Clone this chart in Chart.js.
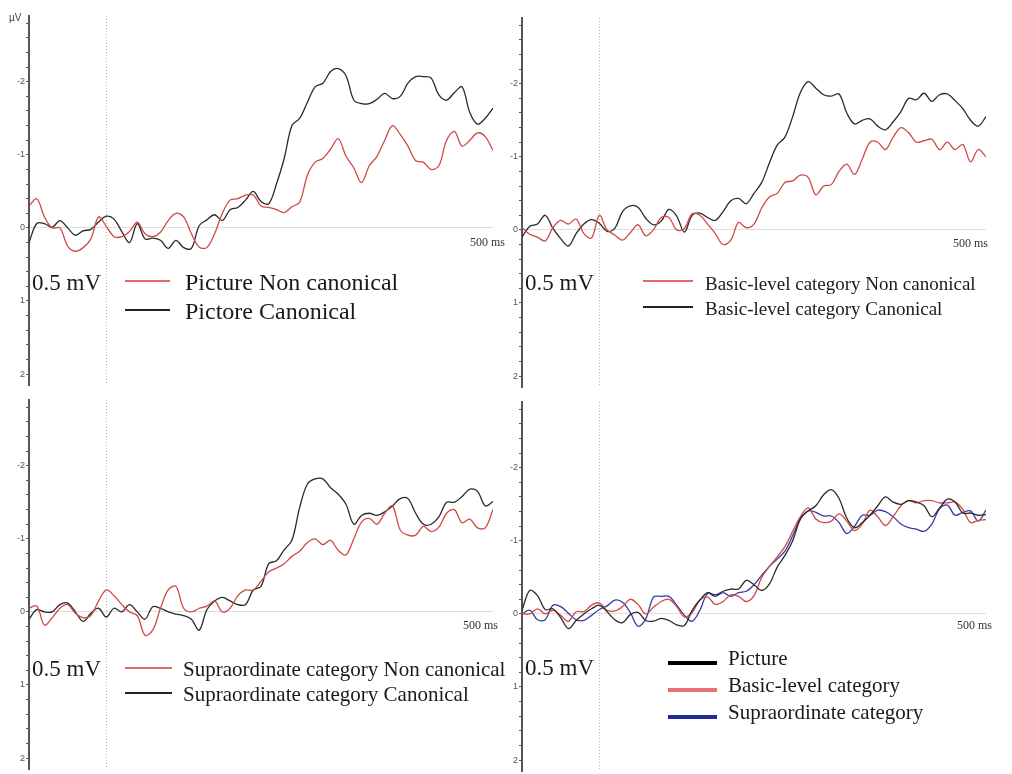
<!DOCTYPE html>
<html>
<head>
<meta charset="utf-8">
<script src="https://cdn.jsdelivr.net/npm/chart.js@4.4.1/dist/chart.umd.min.js"></script>
<style>
  html, body { margin: 0; padding: 0; background: #fff; width: 1012px; height: 774px; overflow: hidden; }
  canvas { position: absolute; }
  .t { position: absolute; font-family: "Liberation Serif", "Times New Roman", serif; color: #1a1a1a; white-space: nowrap; line-height: 1; }
  .unit { position: absolute; font-family: "Liberation Sans", Arial, sans-serif; font-size: 10px; color: #444; line-height: 1; }
  .key { position: absolute; height: 0; }
</style>
</head>
<body>
<canvas id="c1" width="501" height="385" style="left:0px;top:8px"></canvas>
<canvas id="c2" width="501" height="385" style="left:493px;top:10px"></canvas>
<canvas id="c3" width="501" height="385" style="left:0px;top:392px"></canvas>
<canvas id="c4" width="501" height="385" style="left:493px;top:394px"></canvas>

<div class="unit" style="left:9px;top:13px">µV</div>

<div class="t" style="left:32px;top:271px;font-size:23px">0.5 mV</div>
<div class="t" style="left:525px;top:271px;font-size:23px">0.5 mV</div>
<div class="t" style="left:32px;top:657px;font-size:23px">0.5 mV</div>
<div class="t" style="left:525px;top:656px;font-size:23px">0.5 mV</div>

<div class="t" style="left:470px;top:236px;font-size:12px;color:#333">500 ms</div>
<div class="t" style="left:953px;top:237px;font-size:12px;color:#333">500 ms</div>
<div class="t" style="left:463px;top:619px;font-size:12px;color:#333">500 ms</div>
<div class="t" style="left:957px;top:619px;font-size:12px;color:#333">500 ms</div>

<script>
// time axis (ms)
const times = [-100, -90, -80, -70, -60, -50, -40, -30, -20, -10,
  0, 10, 20, 30, 40, 50, 60, 70, 80, 90,
  100, 110, 120, 130, 140, 150, 160, 170, 180, 190,
  200, 210, 220, 230, 240, 250, 260, 270, 280, 290,
  300, 310, 320, 330, 340, 350, 360, 370, 380, 390,
  400, 410, 420, 430, 440, 450, 460, 470, 480, 490,
  500];

const yTicks = [-2.8, -2.6, -2.4, -2.2, -2, -1.8, -1.6, -1.4, -1.2, -1, -0.8, -0.6, -0.4, -0.2,
  0, 0.2, 0.4, 0.6, 0.8, 1, 1.2, 1.4, 1.6, 1.8, 2];
const yTickLabels = [-2, -1, 0, 1, 2];
const markerTimes = [0];

// panel 1 : picture
const p1NonCanonical = [-0.30, -0.40, -0.15, 0.00, 0.00, 0.25, 0.32, 0.27, 0.15, -0.15,
  -0.02, 0.12, 0.12, 0.05, -0.08, 0.08, 0.12, 0.06, -0.10, -0.20,
  -0.15, 0.08, 0.26, 0.27, 0.08, -0.20, -0.38, -0.40, -0.45, -0.45,
  -0.30, -0.28, -0.25, -0.21, -0.29, -0.35, -0.72, -0.90, -0.95, -1.08,
  -1.22, -0.98, -0.82, -0.62, -0.85, -0.98, -1.20, -1.40, -1.28, -1.12,
  -0.92, -0.90, -0.80, -0.85, -1.20, -1.32, -1.12, -1.20, -1.30, -1.25,
  -1.06];
const p1Canonical = [0.20, -0.06, -0.06, -0.01, -0.10, 0.00, 0.10, 0.04, 0.02, -0.08,
  -0.16, -0.12, 0.05, 0.20, -0.06, 0.15, 0.14, 0.17, 0.28, 0.17,
  0.27, 0.28, -0.03, -0.11, -0.18, -0.10, -0.25, -0.28, -0.38, -0.50,
  -0.36, -0.33, -0.60, -0.95, -1.40, -1.50, -1.72, -1.93, -1.98, -2.14,
  -2.18, -2.08, -1.75, -1.70, -1.70, -1.76, -1.84, -1.77, -1.80, -1.98,
  -2.07, -2.07, -2.05, -1.82, -1.75, -1.85, -1.93, -1.58, -1.42, -1.50,
  -1.64];

// panel 2 : basic-level category
const p2NonCanonical = [-0.03, 0.06, 0.10, 0.15, -0.03, -0.13, -0.08, -0.15, 0.05, 0.11,
  -0.20, 0.00, 0.07, 0.14, 0.04, -0.07, 0.08, 0.00, -0.17, -0.17,
  0.00, -0.02, -0.22, -0.20, -0.08, 0.05, 0.20, 0.14, -0.10, -0.03,
  -0.08, -0.30, -0.45, -0.50, -0.65, -0.67, -0.75, -0.72, -0.48, -0.60,
  -0.62, -0.80, -0.90, -0.76, -0.97, -1.20, -1.20, -1.10, -1.27, -1.40,
  -1.33, -1.20, -1.22, -1.24, -1.10, -1.20, -1.10, -1.17, -0.93, -1.10,
  -1.00];
const p2Canonical = [0.10, -0.05, -0.08, -0.20, -0.02, 0.12, 0.22, 0.05, -0.08, -0.14,
  -0.09, 0.02, -0.02, -0.25, -0.33, -0.31, -0.16, -0.07, -0.12, -0.28,
  -0.19, 0.03, -0.20, -0.23, -0.17, -0.13, -0.25, -0.40, -0.43, -0.36,
  -0.50, -0.65, -0.92, -1.16, -1.27, -1.55, -1.88, -2.03, -1.94, -1.85,
  -1.83, -1.86, -1.60, -1.45, -1.50, -1.52, -1.42, -1.37, -1.48, -1.62,
  -1.80, -1.78, -1.87, -1.76, -1.85, -1.86, -1.77, -1.66, -1.50, -1.42,
  -1.55];

// panel 3 : supraordinate category
const p3NonCanonical = [-0.05, -0.08, 0.18, 0.08, -0.05, -0.10, 0.02, 0.08, 0.05, -0.15,
  -0.30, -0.22, -0.10, 0.00, 0.05, 0.32, 0.25, -0.05, -0.30, -0.35,
  -0.05, 0.00, -0.05, -0.08, -0.15, 0.00, -0.05, -0.22, -0.30, -0.30,
  -0.42, -0.55, -0.60, -0.66, -0.76, -0.83, -0.95, -1.00, -0.92, -0.98,
  -0.84, -0.78, -1.00, -1.23, -1.28, -1.20, -1.35, -1.45, -1.12, -1.05,
  -1.05, -1.17, -1.10, -1.16, -1.35, -1.40, -1.22, -1.27, -1.15, -1.15,
  -1.40];
const p3Canonical = [0.10, -0.03, 0.00, 0.00, -0.10, -0.12, 0.00, 0.13, 0.02, -0.05,
  0.07, -0.05, 0.00, -0.10, 0.00, 0.10, -0.07, -0.05, 0.00, 0.03,
  0.05, 0.10, 0.25, -0.03, -0.15, -0.20, -0.15, -0.10, -0.10, -0.30,
  -0.35, -0.66, -0.70, -0.85, -0.98, -1.43, -1.75, -1.82, -1.82, -1.70,
  -1.61, -1.47, -1.20, -1.32, -1.35, -1.32, -1.37, -1.45, -1.55, -1.55,
  -1.35, -1.20, -1.20, -1.30, -1.50, -1.50, -1.58, -1.68, -1.65, -1.45,
  -1.51];

// panel 4 : canonical conditions compared
const p4Picture = [-0.05, -0.32, -0.25, -0.06, -0.07, 0.05, 0.20, 0.09, 0.00, -0.07,
  -0.12, -0.03, 0.08, 0.12, 0.01, -0.02, 0.09, 0.10, 0.06, 0.09,
  0.15, 0.16, -0.05, -0.19, -0.29, -0.26, -0.31, -0.34, -0.34, -0.46,
  -0.40, -0.32, -0.41, -0.64, -0.80, -1.00, -1.30, -1.41, -1.48, -1.63,
  -1.70, -1.58, -1.31, -1.18, -1.25, -1.35, -1.48, -1.60, -1.53, -1.50,
  -1.55, -1.53, -1.48, -1.33, -1.45, -1.57, -1.53, -1.38, -1.38, -1.35,
  -1.36];
const p4Basic = [0.00, 0.00, -0.07, 0.00, -0.05, 0.02, 0.10, -0.03, -0.03, -0.12,
  -0.15, -0.05, -0.04, -0.10, -0.20, -0.13, 0.00, -0.09, -0.17, -0.20,
  -0.10, 0.04, -0.02, -0.19, -0.23, -0.13, -0.17, -0.26, -0.24, -0.17,
  -0.25, -0.50, -0.65, -0.78, -0.92, -1.13, -1.33, -1.45, -1.30, -1.25,
  -1.27, -1.37, -1.27, -1.14, -1.23, -1.42, -1.33, -1.21, -1.33, -1.48,
  -1.55, -1.52, -1.55, -1.55, -1.52, -1.52, -1.53, -1.43, -1.25, -1.28,
  -1.29];
const p4Supra = [0.00, -0.05, 0.08, 0.08, -0.12, -0.10, -0.01, 0.08, 0.09, 0.02,
  -0.06, -0.11, -0.19, -0.16, -0.02, 0.17, 0.07, -0.23, -0.24, -0.24,
  -0.12, 0.02, 0.10, -0.05, -0.28, -0.24, -0.29, -0.24, -0.29, -0.31,
  -0.40, -0.53, -0.65, -0.75, -0.86, -1.07, -1.30, -1.41, -1.39, -1.34,
  -1.34, -1.25, -1.10, -1.20, -1.35, -1.35, -1.42, -1.40, -1.33, -1.23,
  -1.18, -1.16, -1.13, -1.23, -1.44, -1.49, -1.35, -1.39, -1.41, -1.27,
  -1.42];

const RED = '#cf4a44';
const BLACK = '#2a2a2a';
const BLUE = '#3a3aa6';

function makePanel(id, series) {
  return new Chart(document.getElementById(id), {
    type: 'line',
    data: {
      datasets: series.map(s => ({
        label: s.label,
        data: times.map((t, i) => ({ x: t, y: s.data[i] })),
        borderColor: s.color,
        borderWidth: 1.3,
        pointRadius: 0,
        tension: 0.35,
        fill: false
      }))
    },
    options: {
      responsive: false,
      animation: false,
      layout: { padding: { top: 8, bottom: 8, left: 0, right: 8 } },
      plugins: { legend: { display: false }, tooltip: { enabled: false } },
      scales: {
        x: {
          type: 'linear', min: -100, max: 500,
          afterBuildTicks: s => { s.ticks = markerTimes.map(v => ({ value: v })); },
          afterFit: s => { s.height = 0; },
          ticks: { display: false },
          grid: { drawTicks: false, color: '#b8b8b8', lineWidth: 1 },
          border: { display: false, dash: [1, 2] }
        },
        y: {
          reverse: true, min: -2.9, max: 2.15, bounds: 'data',
          afterBuildTicks: s => { s.ticks = yTicks.map(v => ({ value: v })); },
          afterFit: s => { s.width = 29; },
          ticks: {
            autoSkip: false, padding: 1, color: '#555',
            font: { family: 'Liberation Sans', size: 9 },
            callback: v => {
              const r = Math.round(v);
              return Math.abs(v - r) < 1e-6 && yTickLabels.includes(r) ? String(r) : '';
            }
          },
          grid: {
            color: c => (c.tick && Math.abs(c.tick.value) < 1e-6) ? '#dedede' : 'transparent',
            tickColor: '#555', tickLength: 3, tickWidth: 1
          },
          border: { color: '#555', width: 2 }
        }
      }
    }
  });
}

function addLegend(series, o) {
  series.forEach((s, i) => {
    const line = document.createElement('div');
    line.className = 'key';
    line.style.left = o.lineLeft + 'px';
    line.style.width = o.lineLen + 'px';
    line.style.top = (o.lineY[i] - o.thick / 2) + 'px';
    line.style.borderTop = o.thick + 'px solid ' + (s.key || s.color);
    document.body.appendChild(line);
    const txt = document.createElement('div');
    txt.className = 't';
    txt.style.left = o.textLeft + 'px';
    txt.style.top = (o.textY[i] - o.size / 2) + 'px';
    txt.style.fontSize = o.size + 'px';
    txt.textContent = s.label;
    document.body.appendChild(txt);
  });
}

const panel1 = [
  { label: 'Picture Non canonical', data: p1NonCanonical, color: RED, key: '#dd6b66' },
  { label: 'Pictore Canonical', data: p1Canonical, color: BLACK, key: '#222' }
];
const panel2 = [
  { label: 'Basic-level category Non canonical', data: p2NonCanonical, color: RED, key: '#dd6b66' },
  { label: 'Basic-level category Canonical', data: p2Canonical, color: BLACK, key: '#222' }
];
const panel3 = [
  { label: 'Supraordinate category Non canonical', data: p3NonCanonical, color: RED, key: '#dd6b66' },
  { label: 'Supraordinate category Canonical', data: p3Canonical, color: BLACK, key: '#222' }
];
const panel4 = [
  { label: 'Picture', data: p4Picture, color: BLACK, key: '#000' },
  { label: 'Basic-level category', data: p4Basic, color: RED, key: '#e57373' },
  { label: 'Supraordinate category', data: p4Supra, color: BLUE, key: '#1f2a99' }
];

makePanel('c1', panel1);
makePanel('c2', panel2);
makePanel('c3', panel3);
makePanel('c4', panel4);

addLegend(panel1, { lineLeft: 125, lineLen: 45, lineY: [281, 310], thick: 2, textLeft: 185, textY: [282, 311], size: 24 });
addLegend(panel2, { lineLeft: 643, lineLen: 50, lineY: [281, 307], thick: 2, textLeft: 705, textY: [283, 308], size: 19 });
addLegend(panel3, { lineLeft: 125, lineLen: 47, lineY: [668, 693], thick: 2, textLeft: 183, textY: [669, 694], size: 21 });
addLegend(panel4, { lineLeft: 668, lineLen: 49, lineY: [663, 690, 717], thick: 4, textLeft: 728, textY: [658, 685, 712], size: 21 });
</script>
</body>
</html>
